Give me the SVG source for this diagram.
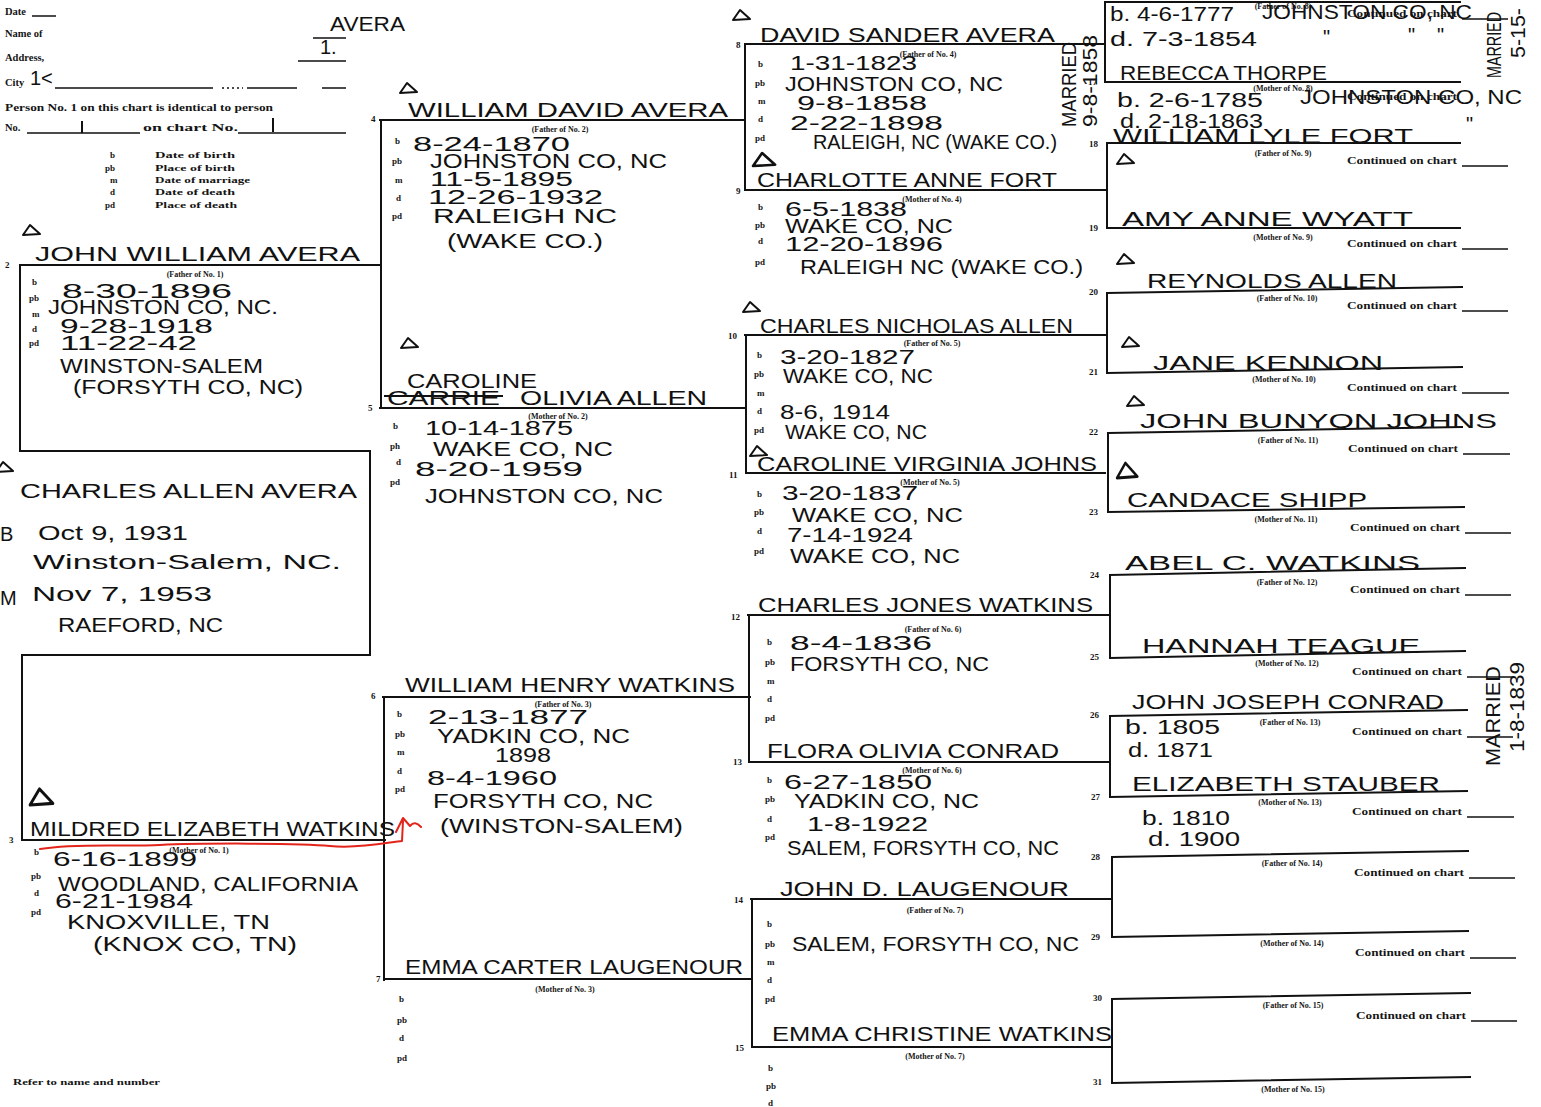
<svg xmlns="http://www.w3.org/2000/svg" width="1541" height="1107" viewBox="0 0 1541 1107">
<defs>
<style>
.f{font-family:"Liberation Serif","DejaVu Serif",serif;font-weight:bold;fill:#151515}
.t{font-size:10.5px}
.k{font-size:9px}
.s{font-size:8px}
.c{font-size:9.5px}
.h{font-family:"Liberation Sans","DejaVu Sans",sans-serif;fill:#111;font-size:20px}
.ln{stroke:#111;stroke-width:2;fill:none;stroke-linecap:square}
.ul{stroke:#111;stroke-width:1.5;fill:none}
.tri{fill:none;stroke:#111;stroke-width:2;stroke-linejoin:round}
.red{stroke:#e3241b;stroke-width:2;fill:none;stroke-linecap:round;stroke-linejoin:round}
</style>
<path id="tri" d="M0,10 L7,0 L17,9 Z"/>
</defs>
<rect width="1541" height="1107" fill="#fff"/>

<g id="connectors" class="ln">
<path d="M20,265 H380 M20,265 V451 H370 V655 H22 M22,655 V840 M22,840 H385"/>
<path d="M380,120 H745 M381,120 V408 M380,408 H745"/>
<path d="M383,697 H750 M384,697 V980 M384,979 H750"/>
<path d="M745,44 H1105 M745,44 V190 M745,190 H1105"/>
<path d="M745,335 H1105 M746,335 V473 M746,473 H1105"/>
<path d="M748,615 H1110 M749,615 V762 M749,762 H1110"/>
<path d="M751,899 H1112 M752,899 V1047 M752,1047 H1112"/>
<path d="M1105,2 H1460 M1105,2 V82 M1105,82 H1460"/>
<path d="M1107,143 H1460 M1107,143 V228 M1107,228 H1460"/>
<path d="M1107,293 L1462,287 M1107,293 V373 M1107,373 L1462,367"/>
<path d="M1108,433 L1462,427 M1108,433 V512 M1108,512 L1464,507"/>
<path d="M1110,575 L1465,568 M1110,575 V658 M1110,658 L1465,651"/>
<path d="M1110,716 L1467,710 M1110,716 V797 M1110,797 L1467,791"/>
<path d="M1112,857 L1468,851 M1112,857 V937 M1112,937 L1468,931"/>
<path d="M1112,999 L1470,993 M1112,999 V1083 M1112,1083 L1470,1077"/>
</g>

<g id="header">
<text class="f t" x="5" y="15">Date</text>
<path class="ul" d="M32,16 H56"/>
<text class="f t" x="5" y="37">Name of</text>
<text class="f t" x="5" y="61">Address,</text>
<text class="f t" x="5" y="86">City</text>
<text class="h" x="30" y="85" font-size="15">1&lt;</text>
<path class="ul" d="M55,88 H213 M247,88 H297 M322,88 H346"/>
<path class="ul" d="M222,88 H243" stroke-dasharray="2 3"/>
<text class="h" x="330" y="31" textLength="75" lengthAdjust="spacingAndGlyphs">AVERA</text>
<path class="ul" d="M313,38 H346 M298,61 H346"/>
<text class="h" x="320" y="54" font-size="12">1.</text>
<text class="f t" x="5" y="111" textLength="268" lengthAdjust="spacingAndGlyphs">Person No. 1 on this chart is identical to person</text>
<text class="f t" x="5" y="131">No.</text>
<path class="ul" d="M27,133 H140 M238,133 H346"/>
<path class="ln" d="M82,122 V132 M273,119 V131" stroke-width="1.5"/>
<text class="f t" x="143" y="131" textLength="95" lengthAdjust="spacingAndGlyphs">on chart No.</text>
<text class="f k" x="110" y="158">b</text>
<text class="f k" x="105" y="171">pb</text>
<text class="f k" x="110" y="183">m</text>
<text class="f k" x="110" y="195">d</text>
<text class="f k" x="105" y="208">pd</text>
<text class="f k" x="155" y="158" textLength="80" lengthAdjust="spacingAndGlyphs">Date of birth</text>
<text class="f k" x="155" y="171" textLength="80" lengthAdjust="spacingAndGlyphs">Place of birth</text>
<text class="f k" x="155" y="183" textLength="95" lengthAdjust="spacingAndGlyphs">Date of marriage</text>
<text class="f k" x="155" y="195" textLength="80" lengthAdjust="spacingAndGlyphs">Date of death</text>
<text class="f k" x="155" y="208" textLength="82" lengthAdjust="spacingAndGlyphs">Place of death</text>
<text class="f k" x="13" y="1085" textLength="147" lengthAdjust="spacingAndGlyphs">Refer to name and number</text>
</g>

<g id="p1">
<use href="#tri" class="tri" transform="translate(-4,462)"/>
<text class="h" x="20" y="498" font-size="28" textLength="337" lengthAdjust="spacingAndGlyphs">CHARLES ALLEN AVERA</text>
<text class="h" x="0" y="541" font-size="23">B</text>
<text class="h" x="38" y="540" font-size="21" textLength="150" lengthAdjust="spacingAndGlyphs">Oct 9, 1931</text>
<text class="h" x="33" y="569" font-size="19" textLength="308" lengthAdjust="spacingAndGlyphs">Winston-Salem, NC.</text>
<text class="h" x="0" y="605" font-size="23">M</text>
<text class="h" x="32" y="601" font-size="21" textLength="180" lengthAdjust="spacingAndGlyphs">Nov 7, 1953</text>
<text class="h" x="58" y="632" font-size="21" textLength="165" lengthAdjust="spacingAndGlyphs">RAEFORD, NC</text>
</g>

<g id="p2">
<text class="f k" x="5" y="268">2</text>
<use href="#tri" class="tri" transform="translate(23,225)"/>
<text class="h" x="35" y="261" font-size="24" textLength="325" lengthAdjust="spacingAndGlyphs">JOHN WILLIAM AVERA</text>
<text class="f s" x="195" y="277" text-anchor="middle">(Father of No. 1)</text>
<text class="f k" x="32" y="285">b</text>
<text class="f k" x="29" y="301">pb</text>
<text class="f k" x="32" y="317">m</text>
<text class="f k" x="32" y="332">d</text>
<text class="f k" x="29" y="346">pd</text>
<text class="h" x="62" y="298" font-size="21" textLength="170" lengthAdjust="spacingAndGlyphs">8-30-1896</text>
<text class="h" x="48" y="314" font-size="18" textLength="230" lengthAdjust="spacingAndGlyphs">JOHNSTON CO, NC.</text>
<text class="h" x="60" y="333" font-size="19" textLength="153" lengthAdjust="spacingAndGlyphs">9-28-1918</text>
<text class="h" x="60" y="350" font-size="17" textLength="137" lengthAdjust="spacingAndGlyphs">11-22-42</text>
<text class="h" x="60" y="373" font-size="20" textLength="203" lengthAdjust="spacingAndGlyphs">WINSTON-SALEM</text>
<text class="h" x="73" y="394" font-size="21" textLength="230" lengthAdjust="spacingAndGlyphs">(FORSYTH CO, NC)</text>
</g>

<g id="p3">
<text class="f k" x="9" y="843">3</text>
<use href="#tri" class="tri" transform="translate(30,789) scale(1.35,1.6)"/>
<text class="h" x="30" y="836" font-size="22" textLength="365" lengthAdjust="spacingAndGlyphs">MILDRED ELIZABETH WATKINS</text>
<path class="red" d="M40,849 C80,843 120,847 160,845 S300,843 330,846 S390,842 402,841 L403,821 M396,832 L403,818 L410,826 Q415,820 421,827"/>
<text class="f s" x="199" y="853" text-anchor="middle">(Mother of No. 1)</text>
<text class="f k" x="34" y="855">b</text>
<text class="f k" x="31" y="879">pb</text>
<text class="f k" x="34" y="896">d</text>
<text class="f k" x="31" y="915">pd</text>
<text class="h" x="53" y="866" font-size="21" textLength="144" lengthAdjust="spacingAndGlyphs">6-16-1899</text>
<text class="h" x="58" y="891" font-size="20" textLength="300" lengthAdjust="spacingAndGlyphs">WOODLAND, CALIFORNIA</text>
<text class="h" x="55" y="908" font-size="19" textLength="138" lengthAdjust="spacingAndGlyphs">6-21-1984</text>
<text class="h" x="67" y="929" font-size="19" textLength="203" lengthAdjust="spacingAndGlyphs">KNOXVILLE, TN</text>
<text class="h" x="93" y="951" font-size="21" textLength="204" lengthAdjust="spacingAndGlyphs">(KNOX CO, TN)</text>
</g>

<g id="p4">
<text class="f k" x="371" y="122">4</text>
<use href="#tri" class="tri" transform="translate(400,83)"/>
<text class="h" x="408" y="117" font-size="23" textLength="320" lengthAdjust="spacingAndGlyphs">WILLIAM DAVID AVERA</text>
<text class="f s" x="560" y="132" text-anchor="middle">(Father of No. 2)</text>
<text class="f k" x="395" y="144">b</text>
<text class="f k" x="392" y="164">pb</text>
<text class="f k" x="395" y="183">m</text>
<text class="f k" x="396" y="201">d</text>
<text class="f k" x="392" y="219">pd</text>
<text class="h" x="413" y="151" font-size="19" textLength="157" lengthAdjust="spacingAndGlyphs">8-24-1870</text>
<text class="h" x="430" y="168" font-size="19" textLength="237" lengthAdjust="spacingAndGlyphs">JOHNSTON CO, NC</text>
<text class="h" x="430" y="186" font-size="18" textLength="143" lengthAdjust="spacingAndGlyphs">11-5-1895</text>
<text class="h" x="428" y="204" font-size="18" textLength="175" lengthAdjust="spacingAndGlyphs">12-26-1932</text>
<text class="h" x="433" y="223" font-size="19" textLength="184" lengthAdjust="spacingAndGlyphs">RALEIGH NC</text>
<text class="h" x="447" y="248" font-size="21" textLength="156" lengthAdjust="spacingAndGlyphs">(WAKE CO.)</text>
</g>

<g id="p5">
<text class="f k" x="368" y="411">5</text>
<use href="#tri" class="tri" transform="translate(401,338)"/>
<text class="h" x="407" y="388" font-size="22" textLength="130" lengthAdjust="spacingAndGlyphs">CAROLINE</text>
<text class="h" x="387" y="405" font-size="21" textLength="113" lengthAdjust="spacingAndGlyphs">CARRIE</text>
<path class="ln" d="M385,396 H502"/>
<text class="h" x="520" y="405" font-size="22" textLength="187" lengthAdjust="spacingAndGlyphs">OLIVIA ALLEN</text>
<text class="f s" x="558" y="419" text-anchor="middle">(Mother of No. 2)</text>
<text class="f k" x="393" y="429">b</text>
<text class="f k" x="390" y="449">ph</text>
<text class="f k" x="396" y="465">d</text>
<text class="f k" x="390" y="485">pd</text>
<text class="h" x="425" y="435" font-size="18" textLength="148" lengthAdjust="spacingAndGlyphs">10-14-1875</text>
<text class="h" x="433" y="456" font-size="20" textLength="180" lengthAdjust="spacingAndGlyphs">WAKE CO, NC</text>
<text class="h" x="415" y="476" font-size="19" textLength="168" lengthAdjust="spacingAndGlyphs">8-20-1959</text>
<text class="h" x="425" y="503" font-size="21" textLength="238" lengthAdjust="spacingAndGlyphs">JOHNSTON CO, NC</text>
</g>

<g id="p6">
<text class="f k" x="371" y="699">6</text>
<text class="h" x="405" y="692" font-size="22" textLength="330" lengthAdjust="spacingAndGlyphs">WILLIAM HENRY WATKINS</text>
<text class="f s" x="563" y="707" text-anchor="middle">(Father of No. 3)</text>
<text class="f k" x="397" y="717">b</text>
<text class="f k" x="395" y="737">pb</text>
<text class="f k" x="397" y="755">m</text>
<text class="f k" x="397" y="774">d</text>
<text class="f k" x="395" y="792">pd</text>
<text class="h" x="428" y="724" font-size="19" textLength="160" lengthAdjust="spacingAndGlyphs">2-13-1877</text>
<text class="h" x="437" y="743" font-size="18" textLength="193" lengthAdjust="spacingAndGlyphs">YADKIN CO, NC</text>
<text class="h" x="495" y="762" font-size="19" textLength="56" lengthAdjust="spacingAndGlyphs">1898</text>
<text class="h" x="427" y="785" font-size="20" textLength="130" lengthAdjust="spacingAndGlyphs">8-4-1960</text>
<text class="h" x="433" y="808" font-size="20" textLength="220" lengthAdjust="spacingAndGlyphs">FORSYTH CO, NC</text>
<text class="h" x="440" y="833" font-size="21" textLength="243" lengthAdjust="spacingAndGlyphs">(WINSTON-SALEM)</text>
</g>

<g id="p7">
<text class="f k" x="376" y="982">7</text>
<text class="h" x="405" y="974" font-size="21" textLength="338" lengthAdjust="spacingAndGlyphs">EMMA CARTER LAUGENOUR</text>
<text class="f s" x="565" y="992" text-anchor="middle">(Mother of No. 3)</text>
<text class="f k" x="399" y="1002">b</text>
<text class="f k" x="397" y="1023">pb</text>
<text class="f k" x="399" y="1041">d</text>
<text class="f k" x="397" y="1061">pd</text>
</g>

<g id="p8">
<text class="f k" x="736" y="48">8</text>
<use href="#tri" class="tri" transform="translate(733,10)"/>
<text class="h" x="760" y="42" font-size="22" textLength="295" lengthAdjust="spacingAndGlyphs">DAVID SANDER AVERA</text>
<text class="f s" x="928" y="57" text-anchor="middle">(Father of No. 4)</text>
<text class="f k" x="758" y="67">b</text>
<text class="f k" x="755" y="86">pb</text>
<text class="f k" x="758" y="104">m</text>
<text class="f k" x="758" y="122">d</text>
<text class="f k" x="755" y="141">pd</text>
<text class="h" x="790" y="70" font-size="19" textLength="127" lengthAdjust="spacingAndGlyphs">1-31-1823</text>
<text class="h" x="785" y="91" font-size="19" textLength="218" lengthAdjust="spacingAndGlyphs">JOHNSTON CO, NC</text>
<text class="h" x="797" y="110" font-size="19" textLength="130" lengthAdjust="spacingAndGlyphs">9-8-1858</text>
<text class="h" x="790" y="130" font-size="19" textLength="153" lengthAdjust="spacingAndGlyphs">2-22-1898</text>
<text class="h" x="813" y="149" font-size="19" textLength="244" lengthAdjust="spacingAndGlyphs">RALEIGH, NC (WAKE CO.)</text>
<text class="h" font-size="16" transform="translate(1076,127) rotate(-90)" textLength="85" lengthAdjust="spacingAndGlyphs">MARRIED</text>
<text class="h" font-size="16" transform="translate(1097,127) rotate(-90)" textLength="92" lengthAdjust="spacingAndGlyphs">9-8-1858</text>
</g>

<g id="p9">
<text class="f k" x="736" y="194">9</text>
<use href="#tri" class="tri" transform="translate(753,153) scale(1.3)"/>
<text class="h" x="757" y="187" font-size="21" textLength="300" lengthAdjust="spacingAndGlyphs">CHARLOTTE ANNE FORT</text>
<text class="f s" x="932" y="202" text-anchor="middle">(Mother of No. 4)</text>
<text class="f k" x="758" y="210">b</text>
<text class="f k" x="755" y="228">pb</text>
<text class="f k" x="758" y="244">d</text>
<text class="f k" x="755" y="265">pd</text>
<text class="h" x="785" y="216" font-size="19" textLength="122" lengthAdjust="spacingAndGlyphs">6-5-1838</text>
<text class="h" x="785" y="233" font-size="18" textLength="168" lengthAdjust="spacingAndGlyphs">WAKE CO, NC</text>
<text class="h" x="785" y="251" font-size="17" textLength="158" lengthAdjust="spacingAndGlyphs">12-20-1896</text>
<text class="h" x="800" y="274" font-size="20" textLength="283" lengthAdjust="spacingAndGlyphs">RALEIGH NC (WAKE CO.)</text>
</g>

<g id="p10">
<text class="f k" x="728" y="339">10</text>
<use href="#tri" class="tri" transform="translate(743,302)"/>
<text class="h" x="760" y="333" font-size="20" textLength="313" lengthAdjust="spacingAndGlyphs">CHARLES NICHOLAS ALLEN</text>
<text class="f s" x="932" y="346" text-anchor="middle">(Father of No. 5)</text>
<text class="f k" x="757" y="358">b</text>
<text class="f k" x="754" y="377">pb</text>
<text class="f k" x="757" y="396">m</text>
<text class="f k" x="757" y="414">d</text>
<text class="f k" x="754" y="433">pd</text>
<text class="h" x="780" y="364" font-size="20" textLength="135" lengthAdjust="spacingAndGlyphs">3-20-1827</text>
<text class="h" x="783" y="383" font-size="19" textLength="150" lengthAdjust="spacingAndGlyphs">WAKE CO, NC</text>
<text class="h" x="780" y="419" font-size="20" textLength="110" lengthAdjust="spacingAndGlyphs">8-6, 1914</text>
<text class="h" x="785" y="439" font-size="19" textLength="142" lengthAdjust="spacingAndGlyphs">WAKE CO, NC</text>
</g>

<g id="p11">
<text class="f k" x="729" y="478">11</text>
<use href="#tri" class="tri" transform="translate(750,446)"/>
<text class="h" x="757" y="471" textLength="340" lengthAdjust="spacingAndGlyphs">CAROLINE VIRGINIA JOHNS</text>
<text class="f s" x="930" y="485" text-anchor="middle">(Mother of No. 5)</text>
<text class="f k" x="757" y="497">b</text>
<text class="f k" x="754" y="515">pb</text>
<text class="f k" x="757" y="534">d</text>
<text class="f k" x="754" y="554">pd</text>
<text class="h" x="782" y="500" font-size="19" textLength="136" lengthAdjust="spacingAndGlyphs">3-20-1837</text>
<text class="h" x="792" y="522" font-size="20" textLength="171" lengthAdjust="spacingAndGlyphs">WAKE CO, NC</text>
<text class="h" x="787" y="542" font-size="18" textLength="126" lengthAdjust="spacingAndGlyphs">7-14-1924</text>
<text class="h" x="790" y="563" font-size="20" textLength="170" lengthAdjust="spacingAndGlyphs">WAKE CO, NC</text>
</g>

<g id="p12">
<text class="f k" x="731" y="620">12</text>
<text class="h" x="758" y="612" font-size="21" textLength="335" lengthAdjust="spacingAndGlyphs">CHARLES JONES WATKINS</text>
<text class="f s" x="933" y="632" text-anchor="middle">(Father of No. 6)</text>
<text class="f k" x="767" y="645">b</text>
<text class="f k" x="765" y="665">pb</text>
<text class="f k" x="767" y="684">m</text>
<text class="f k" x="767" y="702">d</text>
<text class="f k" x="765" y="721">pd</text>
<text class="h" x="790" y="650" font-size="20" textLength="142" lengthAdjust="spacingAndGlyphs">8-4-1836</text>
<text class="h" x="790" y="671" font-size="19" textLength="199" lengthAdjust="spacingAndGlyphs">FORSYTH CO, NC</text>
</g>

<g id="p13">
<text class="f k" x="733" y="765">13</text>
<text class="h" x="767" y="758" font-size="21" textLength="292" lengthAdjust="spacingAndGlyphs">FLORA OLIVIA CONRAD</text>
<text class="f s" x="932" y="773" text-anchor="middle">(Mother of No. 6)</text>
<text class="f k" x="767" y="783">b</text>
<text class="f k" x="765" y="802">pb</text>
<text class="f k" x="767" y="822">d</text>
<text class="f k" x="765" y="840">pd</text>
<text class="h" x="784" y="789" font-size="19" textLength="148" lengthAdjust="spacingAndGlyphs">6-27-1850</text>
<text class="h" x="794" y="808" font-size="19" textLength="185" lengthAdjust="spacingAndGlyphs">YADKIN CO, NC</text>
<text class="h" x="807" y="831" font-size="16" textLength="121" lengthAdjust="spacingAndGlyphs">1-8-1922</text>
<text class="h" x="787" y="855" textLength="272" lengthAdjust="spacingAndGlyphs">SALEM, FORSYTH CO, NC</text>
</g>

<g id="p14">
<text class="f k" x="734" y="903">14</text>
<text class="h" x="780" y="896" font-size="21" textLength="289" lengthAdjust="spacingAndGlyphs">JOHN D. LAUGENOUR</text>
<text class="f s" x="935" y="913" text-anchor="middle">(Father of No. 7)</text>
<text class="f k" x="767" y="927">b</text>
<text class="f k" x="765" y="947">pb</text>
<text class="f k" x="767" y="965">m</text>
<text class="f k" x="767" y="983">d</text>
<text class="f k" x="765" y="1002">pd</text>
<text class="h" x="792" y="951" font-size="19" textLength="287" lengthAdjust="spacingAndGlyphs">SALEM, FORSYTH CO, NC</text>
</g>

<g id="p15">
<text class="f k" x="735" y="1051">15</text>
<text class="h" x="772" y="1041" textLength="340" lengthAdjust="spacingAndGlyphs">EMMA CHRISTINE WATKINS</text>
<text class="f s" x="935" y="1059" text-anchor="middle">(Mother of No. 7)</text>
<text class="f k" x="768" y="1071">b</text>
<text class="f k" x="766" y="1089">pb</text>
<text class="f k" x="768" y="1106">d</text>
</g>

<g id="p16">
<text class="f s" x="1283" y="9" text-anchor="middle">(Father of No. 8)</text>
<text class="f c" x="1347" y="17" textLength="110" lengthAdjust="spacingAndGlyphs">Continued on chart</text>
<path class="ul" d="M1462,19 H1508"/>
<text class="h" x="1110" y="21" font-size="19" textLength="124" lengthAdjust="spacingAndGlyphs">b. 4-6-1777</text>
<text class="h" x="1262" y="19" font-size="18" textLength="210" lengthAdjust="spacingAndGlyphs">JOHNSTON CO, NC</text>
<text class="h" x="1110" y="46" font-size="19" textLength="147" lengthAdjust="spacingAndGlyphs">d. 7-3-1854</text>
<text class="h" x="1323" y="44" font-size="18">"</text>
<text class="h" x="1408" y="42" font-size="18">"</text>
<text class="h" x="1437" y="42" font-size="18">"</text>
<text class="h" font-size="16" transform="translate(1501,78) rotate(-90)" textLength="66" lengthAdjust="spacingAndGlyphs">MARRIED</text>
<text class="h" font-size="15" transform="translate(1525,58) rotate(-90)" textLength="50" lengthAdjust="spacingAndGlyphs">5-15-</text>
</g>

<g id="p17">
<text class="f k" x="1088" y="85">17</text>
<text class="h" x="1120" y="80" textLength="207" lengthAdjust="spacingAndGlyphs">REBECCA THORPE</text>
<text class="f s" x="1283" y="91" text-anchor="middle">(Mother of No. 8)</text>
<text class="f c" x="1347" y="100" textLength="110" lengthAdjust="spacingAndGlyphs">Continued on chart</text>
<text class="h" x="1117" y="107" font-size="19" textLength="146" lengthAdjust="spacingAndGlyphs">b. 2-6-1785</text>
<text class="h" x="1300" y="104" font-size="18" textLength="222" lengthAdjust="spacingAndGlyphs">JOHNSTON CO, NC</text>
<text class="h" x="1120" y="128" font-size="17" textLength="143" lengthAdjust="spacingAndGlyphs">d. 2-18-1863</text>
<text class="h" x="1466" y="131" font-size="18">"</text>
</g>

<g id="p18">
<text class="f k" x="1089" y="147">18</text>
<text class="h" x="1113" y="143" font-size="19" textLength="300" lengthAdjust="spacingAndGlyphs">WILLIAM LYLE FORT</text>
<use href="#tri" class="tri" transform="translate(1117,154)"/>
<text class="f s" x="1283" y="156" text-anchor="middle">(Father of No. 9)</text>
<text class="f c" x="1347" y="164" textLength="110" lengthAdjust="spacingAndGlyphs">Continued on chart</text>
<path class="ul" d="M1462,166 H1508"/>
</g>

<g id="p19">
<text class="f k" x="1089" y="231">19</text>
<text class="h" x="1122" y="226" font-size="21" textLength="291" lengthAdjust="spacingAndGlyphs">AMY ANNE WYATT</text>
<text class="f s" x="1283" y="240" text-anchor="middle">(Mother of No. 9)</text>
<text class="f c" x="1347" y="247" textLength="110" lengthAdjust="spacingAndGlyphs">Continued on chart</text>
<path class="ul" d="M1462,249 H1508"/>
</g>

<g id="p20">
<text class="f k" x="1089" y="295">20</text>
<use href="#tri" class="tri" transform="translate(1117,254)"/>
<text class="h" x="1147" y="288" font-size="21" textLength="250" lengthAdjust="spacingAndGlyphs">REYNOLDS ALLEN</text>
<text class="f s" x="1287" y="301" text-anchor="middle">(Father of No. 10)</text>
<text class="f c" x="1347" y="309" textLength="110" lengthAdjust="spacingAndGlyphs">Continued on chart</text>
<path class="ul" d="M1462,311 H1508"/>
</g>

<g id="p21">
<text class="f k" x="1089" y="375">21</text>
<use href="#tri" class="tri" transform="translate(1122,337)"/>
<text class="h" x="1153" y="370" font-size="21" textLength="230" lengthAdjust="spacingAndGlyphs">JANE KENNON</text>
<text class="f s" x="1284" y="382" text-anchor="middle">(Mother of No. 10)</text>
<text class="f c" x="1347" y="391" textLength="110" lengthAdjust="spacingAndGlyphs">Continued on chart</text>
<path class="ul" d="M1462,393 H1509"/>
</g>

<g id="p22">
<text class="f k" x="1089" y="435">22</text>
<use href="#tri" class="tri" transform="translate(1127,396)"/>
<text class="h" x="1140" y="428" font-size="21" textLength="357" lengthAdjust="spacingAndGlyphs">JOHN BUNYON JOHNS</text>
<text class="f s" x="1288" y="443" text-anchor="middle">(Father of No. 11)</text>
<text class="f c" x="1348" y="452" textLength="110" lengthAdjust="spacingAndGlyphs">Continued on chart</text>
<path class="ul" d="M1463,454 H1510"/>
</g>

<g id="p23">
<text class="f k" x="1089" y="515">23</text>
<use href="#tri" class="tri" transform="translate(1117,463) scale(1.2,1.5)"/>
<text class="h" x="1127" y="507" font-size="21" textLength="240" lengthAdjust="spacingAndGlyphs">CANDACE SHIPP</text>
<text class="f s" x="1286" y="522" text-anchor="middle">(Mother of No. 11)</text>
<text class="f c" x="1350" y="531" textLength="110" lengthAdjust="spacingAndGlyphs">Continued on chart</text>
<path class="ul" d="M1465,533 H1511"/>
</g>

<g id="p24">
<text class="f k" x="1090" y="578">24</text>
<text class="h" x="1125" y="570" font-size="21" textLength="295" lengthAdjust="spacingAndGlyphs">ABEL C. WATKINS</text>
<text class="f s" x="1287" y="585" text-anchor="middle">(Father of No. 12)</text>
<text class="f c" x="1350" y="593" textLength="110" lengthAdjust="spacingAndGlyphs">Continued on chart</text>
<path class="ul" d="M1465,595 H1511"/>
</g>

<g id="p25">
<text class="f k" x="1090" y="660">25</text>
<text class="h" x="1142" y="653" font-size="21" textLength="278" lengthAdjust="spacingAndGlyphs">HANNAH TEAGUE</text>
<text class="f s" x="1287" y="666" text-anchor="middle">(Mother of No. 12)</text>
<text class="f c" x="1352" y="675" textLength="110" lengthAdjust="spacingAndGlyphs">Continued on chart</text>
<path class="ul" d="M1467,677 H1513"/>
</g>

<g id="p26">
<text class="f k" x="1090" y="718">26</text>
<text class="h" x="1132" y="709" textLength="312" lengthAdjust="spacingAndGlyphs">JOHN JOSEPH CONRAD</text>
<text class="f s" x="1290" y="725" text-anchor="middle">(Father of No. 13)</text>
<text class="f c" x="1352" y="735" textLength="110" lengthAdjust="spacingAndGlyphs">Continued on chart</text>
<path class="ul" d="M1467,737 H1513"/>
<text class="h" x="1125" y="734" textLength="95" lengthAdjust="spacingAndGlyphs">b. 1805</text>
<text class="h" x="1128" y="757" textLength="85" lengthAdjust="spacingAndGlyphs">d. 1871</text>
</g>

<g id="p27">
<text class="f k" x="1091" y="800">27</text>
<text class="h" x="1132" y="791" textLength="308" lengthAdjust="spacingAndGlyphs">ELIZABETH STAUBER</text>
<text class="f s" x="1290" y="805" text-anchor="middle">(Mother of No. 13)</text>
<text class="f c" x="1352" y="815" textLength="110" lengthAdjust="spacingAndGlyphs">Continued on chart</text>
<path class="ul" d="M1467,817 H1514"/>
<text class="h" x="1142" y="825" textLength="88" lengthAdjust="spacingAndGlyphs">b. 1810</text>
<text class="h" x="1148" y="846" textLength="92" lengthAdjust="spacingAndGlyphs">d. 1900</text>
<text class="h" font-size="17" transform="translate(1500,766) rotate(-90)" textLength="100" lengthAdjust="spacingAndGlyphs">MARRIED</text>
<text class="h" font-size="17" transform="translate(1524,752) rotate(-90)" textLength="90" lengthAdjust="spacingAndGlyphs">1-8-1839</text>
</g>

<g id="p28">
<text class="f k" x="1091" y="860">28</text>
<text class="f s" x="1292" y="866" text-anchor="middle">(Father of No. 14)</text>
<text class="f c" x="1354" y="876" textLength="110" lengthAdjust="spacingAndGlyphs">Continued on chart</text>
<path class="ul" d="M1469,878 H1515"/>
</g>

<g id="p29">
<text class="f k" x="1091" y="940">29</text>
<text class="f s" x="1292" y="946" text-anchor="middle">(Mother of No. 14)</text>
<text class="f c" x="1355" y="956" textLength="110" lengthAdjust="spacingAndGlyphs">Continued on chart</text>
<path class="ul" d="M1470,958 H1516"/>
</g>

<g id="p30">
<text class="f k" x="1093" y="1001">30</text>
<text class="f s" x="1293" y="1008" text-anchor="middle">(Father of No. 15)</text>
<text class="f c" x="1356" y="1019" textLength="110" lengthAdjust="spacingAndGlyphs">Continued on chart</text>
<path class="ul" d="M1471,1021 H1517"/>
</g>

<g id="p31">
<text class="f k" x="1093" y="1085">31</text>
<text class="f s" x="1293" y="1092" text-anchor="middle">(Mother of No. 15)</text>
</g>
</svg>
